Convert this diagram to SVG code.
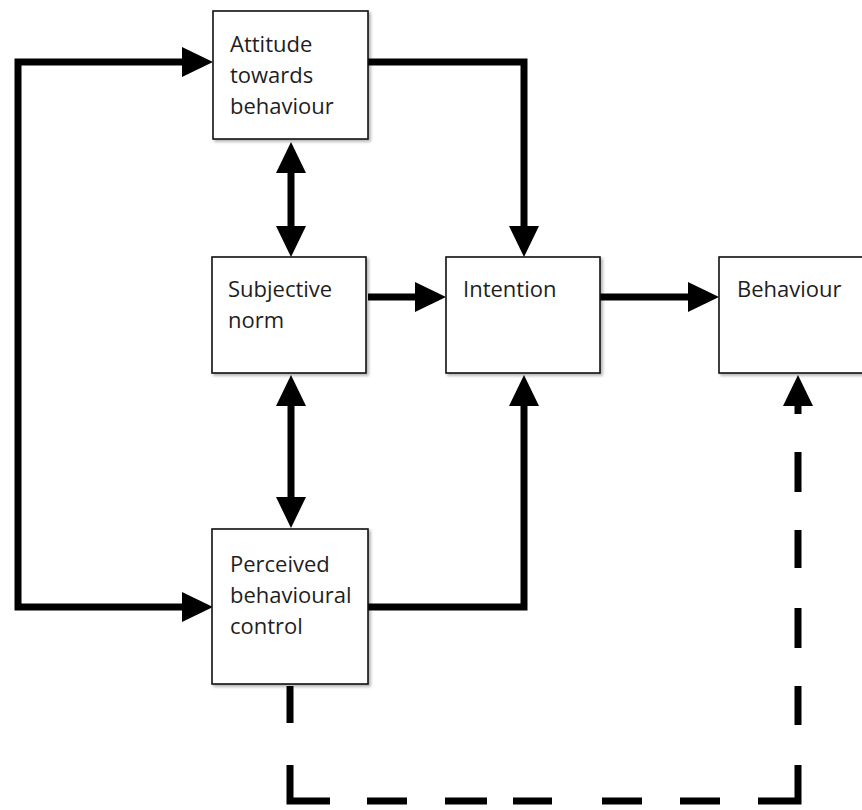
<svg xmlns="http://www.w3.org/2000/svg" width="862" height="810" viewBox="0 0 862 810">
<style>
.box{fill:#fff;stroke:#111;stroke-width:1.6;filter:url(#sh)}
.lbl{font-family:"Open Sans","Noto Sans",sans-serif;font-size:22px;fill:#1e1e1e}
.con{fill:none;stroke:#000;stroke-width:7;stroke-linejoin:miter}
</style>
<defs>
<filter id="sh" x="-10%" y="-10%" width="130%" height="130%">
<feDropShadow dx="2" dy="2" stdDeviation="1.5" flood-color="#000" flood-opacity="0.3"/>
</filter>
<marker id="ah" markerUnits="userSpaceOnUse" markerWidth="32" markerHeight="32" refX="0" refY="15" orient="auto-start-reverse" viewBox="0 0 32 30">
<path d="M0,0 L31,15 L0,30 z" fill="#000"/>
</marker>
</defs>
<rect width="862" height="810" fill="#fff"/>
<g id="connectors">
<path class="con" d="M182,62 H18 V607 H182" marker-start="url(#ah)" marker-end="url(#ah)"/>
<path class="con" d="M368,62 H524 V226" marker-end="url(#ah)"/>
<path class="con" d="M291,173 V226" marker-start="url(#ah)" marker-end="url(#ah)"/>
<path class="con" d="M291,406 V497" marker-start="url(#ah)" marker-end="url(#ah)"/>
<path class="con" d="M368,297 H415" marker-end="url(#ah)"/>
<path class="con" d="M600,297 H688" marker-end="url(#ah)"/>
<path class="con" d="M368,607 H524 V406" marker-end="url(#ah)"/>
<path class="con" d="M290,686 V723 M290,765 V801 H330 M367,801 H407 M445,801 H487 M513,801 H552 M602,801 H642 M680,801 H720 M758,801 H798 V765 M798,725 V686 M798,648 V608 M798,568 V530 M798,492 V452"/>
<path class="con" d="M798,414 V406" marker-end="url(#ah)"/>
</g>
<g id="attitude">
<rect class="box" x="213" y="11" width="155" height="128"/>
<text class="lbl" x="230" y="52">Attitude</text>
<text class="lbl" x="230" y="83">towards</text>
<text class="lbl" x="230" y="114">behaviour</text>
</g>
<g id="subjective-norm">
<rect class="box" x="212" y="257" width="154" height="116"/>
<text class="lbl" x="228" y="297">Subjective</text>
<text class="lbl" x="228" y="328">norm</text>
</g>
<g id="intention">
<rect class="box" x="446" y="257" width="154" height="116"/>
<text class="lbl" x="463" y="297">Intention</text>
</g>
<g id="behaviour">
<rect class="box" x="719" y="257" width="160" height="116"/>
<text class="lbl" x="737" y="297">Behaviour</text>
</g>
<g id="perceived-control">
<rect class="box" x="212" y="529" width="156" height="155"/>
<text class="lbl" x="230" y="572">Perceived</text>
<text class="lbl" x="230" y="603">behavioural</text>
<text class="lbl" x="230" y="634">control</text>
</g>
</svg>
